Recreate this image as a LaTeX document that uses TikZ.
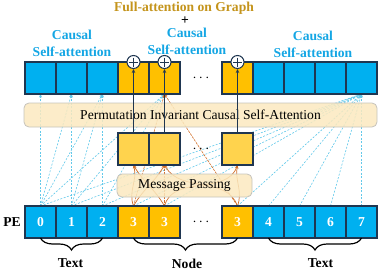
\documentclass[tikz,border=0pt]{standalone}
\usepackage{fontspec}
\setmainfont{Liberation Serif}
\usetikzlibrary{arrows.meta,backgrounds,calc,positioning,decorations.pathreplacing}
\definecolor{cellblue}{HTML}{00B0F0}
\definecolor{cellgold}{HTML}{FFC000}
\definecolor{midgold}{HTML}{FFD34D}
\definecolor{navy}{HTML}{1F3651}
\definecolor{lblblue}{HTML}{14A6E4}
\definecolor{lblgold}{HTML}{C4941C}
\definecolor{bandfill}{HTML}{FBE9BF}
\definecolor{bandedge}{HTML}{C6C3BC}
\definecolor{attnblue}{HTML}{63C9EA}
\definecolor{mporange}{HTML}{D2702A}
\tikzset{
    big/.style      = {font=\fontsize{13.6}{17}\selectfont},
    lbl/.style      = {align=center, font=\fontsize{13.6}{17}\selectfont\bfseries},
    cell/.style     = {draw=navy, line width=1.5pt, outer sep=0pt, inner sep=0pt,
                       minimum width=31pt, minimum height=32pt},
    txtcell/.style  = {cell, fill=cellblue},
    nodecell/.style = {cell, fill=cellgold},
    midcell/.style  = {cell, fill=midgold},
    pe/.style       = {text=white, font=\fontsize{13.6}{17}\selectfont\bfseries},
    band/.style     = {draw=bandedge, line width=0.8pt, fill=bandfill,
                       fill opacity=0.85, text opacity=1, rounded corners=5pt, big},
    adder/.style    = {circle, draw=navy, line width=1pt, fill=white,
                       minimum size=13pt, inner sep=0pt,
                       path picture={\draw[navy, line width=0.9pt]
                         ([yshift=-2pt]path picture bounding box.north) --
                         ([yshift=2pt]path picture bounding box.south)
                         ([xshift=2pt]path picture bounding box.west) --
                         ([xshift=-2pt]path picture bounding box.east);}},
    causal/.style   = {attnblue, line width=0.6pt, dash pattern=on 2pt off 1.5pt,
                       -{Stealth[length=3.5pt, width=3pt]}},
    full/.style     = {mporange, line width=0.6pt, dash pattern=on 2.5pt off 1pt,
                       -{Stealth[length=3.5pt, width=3pt]}},
    pass/.style     = {mporange, line width=0.7pt, -{Stealth[length=3.5pt, width=3pt]}},
    lift/.style     = {navy, line width=1pt, -{Stealth[length=4pt, width=3.5pt]}},
    brace/.style    = {decorate, decoration={brace, mirror, amplitude=12pt},
                       line width=1.2pt}
}
\begin{document}
\begin{tikzpicture}[x=1pt, y=1pt]
\useasboundingbox (0,0) rectangle (381,274);

% Output tokens
\node[txtcell] (t0) at (40.5,196) {};
\node[txtcell, right=0pt of t0] (t1) {};
\node[txtcell, right=0pt of t1] (t2) {};
\node[nodecell, right=0pt of t2] (tn1) {};
\node[nodecell, right=0pt of tn1] (tn2) {};
\node[nodecell, right=42pt of tn2] (tn3) {};
\foreach \i/\j in {4/tn3,5/t4,6/t5,7/t6}
    \node[txtcell, right=0pt of \j] (t\i) {};
\node[big] (tdots) at ($(tn2.east)!0.5!(tn3.west)$) {$\cdots$};

% Aggregated node tokens
\node[midcell] (m1) at (133.5,125) {};
\node[midcell, right=0pt of m1] (m2) {};
\node[midcell] (m3) at (tn3 |- m1) {};
\node[big] (mdots) at ($(m2.east)!0.5!(m3.west)$) {$\cdots$};

% Input tokens with their positions
\node[txtcell, pe] (p0) at (40.5,52) {0};
\node[txtcell, pe, right=0pt of p0] (p1) {1};
\node[txtcell, pe, right=0pt of p1] (p2) {2};
\node[nodecell, pe, right=0pt of p2] (pn1) {3};
\node[nodecell, pe, right=0pt of pn1] (pn2) {3};
\node[nodecell, pe, right=42pt of pn2] (pn3) {3};
\foreach \i/\j in {4/pn3,5/p4,6/p5,7/p6}
    \node[txtcell, pe, right=0pt of \j] (p\i) {\i};
\node[big] (pdots) at ($(pn2.east)!0.5!(pn3.west)$) {$\cdots$};
\node[lbl] (pe) at (12,52) {PE};

% Attention edges behind the tokens
\begin{scope}[on background layer]
\foreach \s/\d in {p0/t0,p0/t1,p0/t2,p1/t1,p1/t2,p2/t2,p0/tn2,p1/tn2,p2/tn2}
    \draw[causal] (\s.north) -- (\d.south);
\foreach \s in {p0,p1,p2,pn1,pn2,pn3,p4,p5,p6,p7}
    \draw[causal] (\s.north) -- (t7.south);
\foreach \s in {pn1,pn2,pn3}
    \draw[full] (\s.north) -- (tn2.south);
\draw[pass] (pn1.north) to[out=110, in=-75] (m1.south);
\draw[pass] (pn2.north) to[out=120, in=-60] (m1.south);
\draw[pass] (pn1.north) to[out=60, in=-120] (m2.south);
\draw[pass] (pn3.north) to[out=110, in=-60] (m2.south);
\draw[pass] (pn2.north) to[out=75, in=-110] (m3.south);
\draw[pass] (pn3.north) to[out=70, in=-100] (m3.south);
\end{scope}

% Layers
\node[band, minimum width=353pt, minimum height=24pt] (pica) at (200.5,159)
    {Permutation Invariant Causal Self-Attention};
\node[band, minimum width=135pt, minimum height=23pt] (mp) at (184.5,88.5)
    {Message Passing};

% Residual sums on the node tokens
\node[adder] (add1) at (tn1.north) {};
\node[adder] (add2) at (tn2.north) {};
\node[adder] (add3) at (tn3.north) {};
\draw[lift] (m1) -- (add1);
\draw[lift] (m2) -- (add2);
\draw[lift] (m3) -- (add3);

% Headings
\node[lbl, text=lblblue] (csal) at (72,230.5) {Causal\\Self-attention};
\node[lbl, text=lblblue] (csam) at (187,232.5) {Causal\\Self-attention};
\node[lbl, text=lblblue] (csar) at (313,229.5) {Causal\\Self-attention};
\node[lbl, text=lblgold] (fag) at (184,266) {Full-attention on Graph};
\node[lbl] (plus) at (185,253) {+};

% Token groups
\draw[brace] (p0.south) -- (p2.south);
\draw[brace] (pn1.south) -- (pn3.south);
\draw[brace] (p4.south) -- (p7.south);
\node[lbl] (txtl) at (70.5,10.5) {Text};
\node[lbl] (nodeg) at (187,10.5) {Node};
\node[lbl] (txtr) at (320.5,10.5) {Text};

\end{tikzpicture}
\end{document}
